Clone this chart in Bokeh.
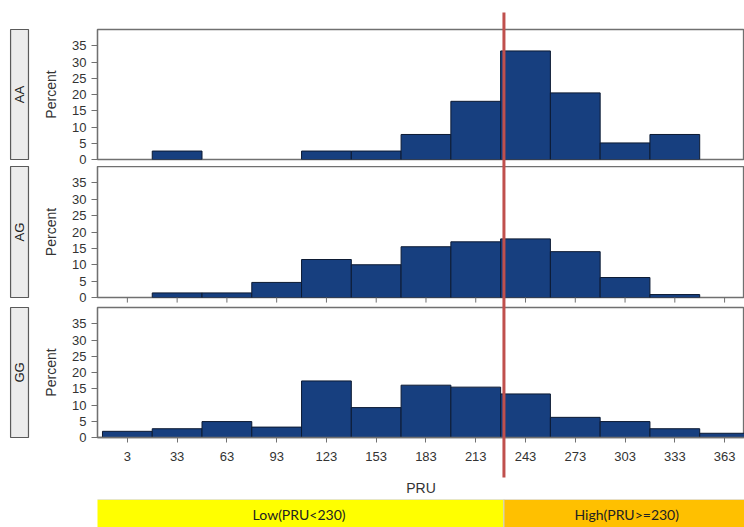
import math
from bokeh.plotting import figure
from bokeh.layouts import column
from bokeh.models import Range1d, FixedTicker, ColumnDataSource
from bokeh.core.properties import value
from bokeh.embed import file_html
from bokeh.resources import INLINE

# ---------------- data ----------------
BIN_CENTERS = [3, 33, 63, 93, 123, 153, 183, 213, 243, 273, 303, 333, 363]
BIN_WIDTH = 30
GENOTYPES = ["AA", "AG", "GG"]
PCT_AA = [0, 2.6, 0, 0, 2.6, 2.6, 7.7, 17.9, 33.4, 20.5, 5.1, 7.7, 0]
PCT_AG = [0, 1.4, 1.4, 4.6, 11.6, 10.0, 15.5, 17.0, 17.9, 14.0, 6.1, 0.9, 0]
PCT_GG = [1.9, 2.7, 4.9, 3.2, 17.4, 9.2, 16.1, 15.5, 13.4, 6.2, 4.9, 2.7, 1.3]
Y_TICKS = [0, 5, 10, 15, 20, 25, 30, 35]
X_LABEL = "PRU"
Y_LABEL = "Percent"
CUTOFF = 230
GROUP_LABELS = ["Low(PRU<230)", "High(PRU>=230)"]
GROUP_LEFT = [-17, 230]
GROUP_RIGHT = [230, 378]
GROUP_COLORS = ["#FFFF00", "#FFC000"]

# ---------------- style ----------------
BAR_FILL = "#173f7f"
BAR_LINE = "#0c1a33"
FRAME = "#707070"
TXT = "#333333"
FONT = "Liberation Sans"
RED = "#c0504d"
FRAME_W = 647
LEFT = 97
STRIP_LEFT, STRIP_RIGHT = -67.4, -56.6   # strip box, in x-data units left of the frame
STRIP_MID = (STRIP_LEFT + STRIP_RIGHT) / 2

x_range = Range1d(-15, 375)


def panel(name, pct, top_b, frame_h, bottom_b, xmode, line_lo, line_hi):
    p = figure(frame_width=FRAME_W, frame_height=frame_h, x_range=x_range,
               y_range=Range1d(0, 40), output_backend="svg", toolbar_location=None,
               x_axis_location=("below" if xmode == "labels" else None),
               min_border_left=LEFT, min_border_right=0,
               min_border_top=top_b, min_border_bottom=bottom_b,
               background_fill_color="white", border_fill_color="white")
    p.outline_line_color = FRAME
    p.outline_line_width = 1.3
    p.xgrid.visible = False
    p.ygrid.visible = False

    ya = p.yaxis[0]
    ya.ticker = FixedTicker(ticks=Y_TICKS)
    ya.axis_label = Y_LABEL
    ya.axis_label_text_font = FONT
    ya.axis_label_text_font_size = "14px"
    ya.axis_label_text_font_style = "normal"
    ya.axis_label_text_color = TXT
    ya.axis_label_standoff = 10
    ya.major_label_text_font = FONT
    ya.major_label_text_font_size = "13px"
    ya.major_label_text_color = TXT
    ya.major_label_standoff = 5
    ya.major_tick_out = 6
    ya.major_tick_in = 0
    ya.minor_tick_out = 0
    ya.minor_tick_in = 0
    ya.axis_line_color = FRAME
    ya.major_tick_line_color = FRAME
    ya.axis_line_width = 1.3

    if xmode == "labels":
        xa = p.xaxis[0]
        xa.ticker = FixedTicker(ticks=BIN_CENTERS)
        xa.major_tick_out = 5
        xa.major_tick_in = 0
        xa.minor_tick_out = 0
        xa.minor_tick_in = 0
        xa.major_tick_line_color = FRAME
        xa.axis_line_color = FRAME
        xa.axis_line_width = 1.3
        xa.axis_label = X_LABEL
        xa.axis_label_text_font = FONT
        xa.axis_label_text_font_size = "14px"
        xa.axis_label_text_font_style = "normal"
        xa.axis_label_text_color = TXT
        xa.axis_label_standoff = 16
        xa.major_label_text_font = FONT
        xa.major_label_text_font_size = "13px"
        xa.major_label_text_color = TXT
        xa.major_label_standoff = 9
    elif xmode == "ticks":
        # tick marks only (no labels) hanging below the panel
        p.segment(x0=BIN_CENTERS, y0=[0] * len(BIN_CENTERS),
                  x1=BIN_CENTERS, y1=[-1.55] * len(BIN_CENTERS),
                  line_color=FRAME, line_width=1, level="overlay")

    keep = [i for i, v in enumerate(pct) if v > 0]
    src = ColumnDataSource(dict(
        left=[BIN_CENTERS[i] - BIN_WIDTH / 2 for i in keep],
        right=[BIN_CENTERS[i] + BIN_WIDTH / 2 for i in keep],
        top=[pct[i] for i in keep],
    ))
    p.quad(left="left", right="right", bottom=0, top="top", source=src,
           fill_color=BAR_FILL, line_color=BAR_LINE, line_width=1)

    p.segment(x0=[CUTOFF], y0=[line_lo], x1=[CUTOFF], y1=[line_hi],
              line_color=RED, line_width=3, level="overlay")

    # strip label (lattice-style) on the left of the panel
    p.quad(left=[STRIP_LEFT], right=[STRIP_RIGHT], bottom=[0], top=[40],
           fill_color="#ececec", line_color="#5a5a5a", line_width=1.2, level="overlay")
    p.text(x=[STRIP_MID], y=[20], text=[name], angle=math.pi / 2,
           text_font=value(FONT), text_font_size="13px", text_color="#222222",
           text_align="center", text_baseline="middle", level="overlay")
    return p


p1 = panel(GENOTYPES[0], PCT_AA, 29, 130, 7, None, -100, 45.2)
p2 = panel(GENOTYPES[1], PCT_AG, 0, 131, 9, "ticks", -100, 100)
p3 = panel(GENOTYPES[2], PCT_GG, 1, 130, 60, "labels", -12.3, 100)

band = figure(frame_width=FRAME_W, frame_height=29, x_range=x_range, y_range=Range1d(0, 1),
              output_backend="svg", toolbar_location=None,
              x_axis_location=None, y_axis_location=None,
              min_border_left=LEFT, min_border_right=0, min_border_top=1, min_border_bottom=0,
              outline_line_color=None)
band.xgrid.visible = False
band.ygrid.visible = False
band.quad(left=GROUP_LEFT, right=GROUP_RIGHT, bottom=0, top=1,
          fill_color=GROUP_COLORS, line_color="#cfcfcf", line_width=1)
band.text(x=[(a + b) / 2 for a, b in zip(GROUP_LEFT, GROUP_RIGHT)], y=[0.5, 0.5],
          text=GROUP_LABELS, text_font=value("Lato"), text_font_size="14px",
          text_align="center", text_baseline="middle", text_color="#222222")

layout = column(p1, p2, p3, band, spacing=0)
open("out.html", "w").write(file_html(layout, INLINE))
